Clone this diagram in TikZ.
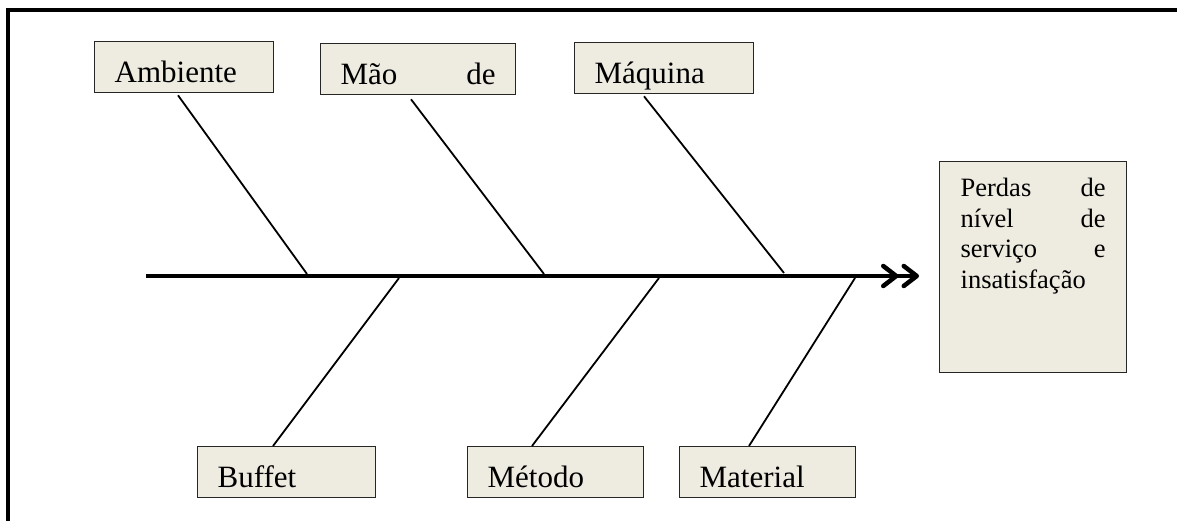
\documentclass[tikz,border=0pt]{standalone}
\usepackage{fontspec}
\setmainfont{Liberation Serif}
\usetikzlibrary{arrows.meta}
\definecolor{boxfill}{HTML}{EEECE1}
\tikzset{
  lbl/.style={draw=black!85, line width=1.3pt, fill=boxfill, anchor=north west,
    inner xsep=20pt, inner ysep=0pt, text height=40.5pt, text depth=10.5pt,
    align=left, font=\fontsize{31}{36}\selectfont},
  effectbox/.style={draw=black!85, line width=1.3pt, fill=boxfill, anchor=north west,
    inner xsep=21pt, inner ysep=0pt, text width=145pt, text height=35pt, text depth=176pt,
    align=left, font=\fontsize{26.5}{30.5}\selectfont},
  bone/.style={line width=1.8pt, black},
  spine/.style={line width=4.5pt, black, line cap=butt,
    -{Straight Barb[length=13pt,width=20pt,round,sep=3pt]Straight Barb[length=13pt,width=20pt,round]}},
  frameline/.style={line width=4pt, black}
}
\begin{document}
\begin{tikzpicture}[x=1pt,y=-1pt]
\useasboundingbox (0,0) rectangle (1177,521);
% frame (top and left)
\coordinate (fbl) at (8,521);
\coordinate (ftl) at (8,10);
\coordinate (ftr) at (1177,10);
\draw[frameline] (fbl) -- (ftl) -- (ftr);

% cause boxes
\node[lbl, text width=139pt] (amb) at (94,41) {Ambiente};
\node[lbl, text width=155pt] (mao) at (320,43) {Mão\hfill de};
\node[lbl, text width=139pt] (maq) at (574,42) {Máquina};
\node[lbl, text width=138pt] (buf) at (197,446) {Buffet};
\node[lbl, text width=136pt] (met) at (467,446) {Método};
\node[lbl, text width=136pt] (mat) at (679,446) {Material};

% effect box
\node[effectbox] (eff) at (939,161) {Perdas\hfill de\\nível\hfill de\\serviço\hfill e\\insatisfação};

% spine
\coordinate (spL) at (146,276);
\coordinate (spR) at (919,276);
\draw[spine] (spL) -- (spR);

% points on spine
\coordinate (pamb) at (307,274);
\coordinate (pmao) at (544,274);
\coordinate (pmaq) at (784,273);
\coordinate (pbuf) at (399,278);
\coordinate (pmet) at (659,278);
\coordinate (pmat) at (855,278);

% bones
\draw[bone] ([xshift=84pt,yshift=-2pt]amb.south west) -- (pamb);
\draw[bone] ([xshift=91pt,yshift=-4pt]mao.south west) -- (pmao);
\draw[bone] ([xshift=70pt,yshift=-2pt]maq.south west) -- (pmaq);
\draw[bone] ([xshift=76pt]buf.north west) -- (pbuf);
\draw[bone] ([xshift=65pt]met.north west) -- (pmet);
\draw[bone] ([xshift=70pt]mat.north west) -- (pmat);
\end{tikzpicture}
\end{document}
